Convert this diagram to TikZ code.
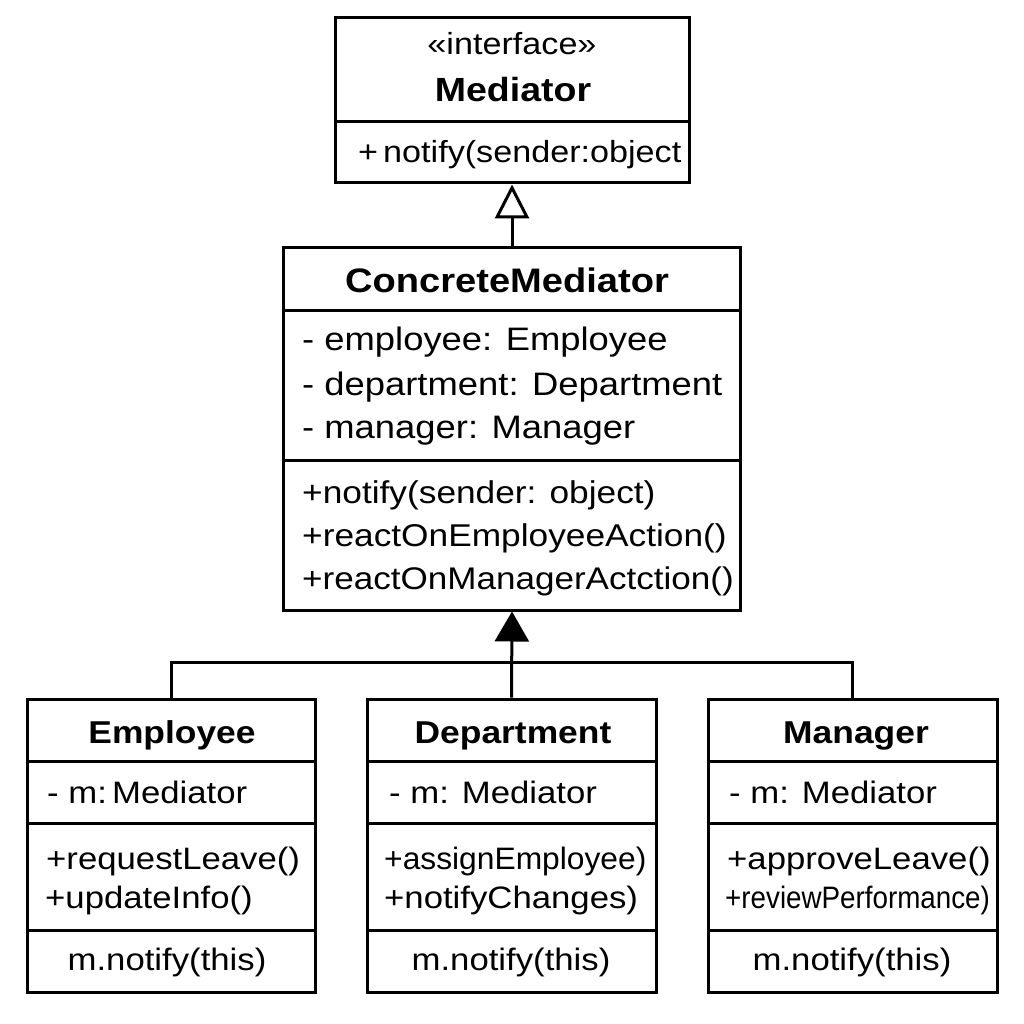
\documentclass[tikz,border=0pt]{standalone}
\usepackage{fontspec}
\setmainfont{Liberation Sans}[FakeStretch=1.12]
\usetikzlibrary{arrows.meta}
\begin{document}
\begin{tikzpicture}[x=1pt,y=-1pt,
  box/.style={draw=black, line width=3pt, rectangle, inner sep=0pt, fill=white},
  sep/.style={draw=black, line width=3pt},
  conn/.style={draw=black, line width=3pt},
  ttl/.style={inner sep=0pt, anchor=base, font=\bfseries\fontsize{34}{40}\selectfont},
  btl/.style={inner sep=0pt, anchor=base, font=\bfseries\fontsize{31.6}{38}\selectfont},
  ln/.style={inner sep=0pt, anchor=base west, font=\fontsize{32}{38}\selectfont},
  sm/.style={inner sep=0pt, anchor=base west, font=\fontsize{31}{37}\selectfont},
  smc/.style={inner sep=0pt, anchor=base, font=\fontsize{31}{37}\selectfont}
]
\useasboundingbox[fill=white] (0,0) rectangle (1024,1024);

% Mediator interface
\node[box, minimum width=354pt, minimum height=165pt] (med) at (512,100.5) {};
\draw[sep] (med.west |- 0,122) -- (med.east |- 0,122);
\node[inner sep=0pt, anchor=base, font=\fontsize{30.5}{36}\selectfont] (medst) at (512,55) {«interface»};
\node[inner sep=0pt, anchor=base, font=\bfseries\fontsize{33.5}{40}\selectfont] (medt) at (513,102) {Mediator};
\node[sm, font=\fontsize{30.5}{36}\selectfont] (medm) at (358,163) {+\,notify(sender:object};

% ConcreteMediator
\node[box, minimum width=457pt, minimum height=363pt] (cm) at (512,428.5) {};
\draw[sep] (cm.west |- 0,310) -- (cm.east |- 0,310);
\draw[sep] (cm.west |- 0,460) -- (cm.east |- 0,460);
\node[ttl] (cmt) at (507,292) {ConcreteMediator};
\node[ln, font=\fontsize{32.5}{38}\selectfont] (cma1) at (302,350) {- employee: Employee};
\node[ln, font=\fontsize{32.5}{38}\selectfont] (cma2) at (302,395) {- department: Department};
\node[ln, font=\fontsize{32.5}{38}\selectfont] (cma3) at (302,438) {- manager: Manager};
\node[ln, font=\fontsize{31.5}{38}\selectfont] (cmm1) at (302,503) {+notify(sender: object)};
\node[ln, font=\fontsize{31.5}{38}\selectfont] (cmm2) at (302,546) {+reactOnEmployeeAction()};
\node[ln, font=\fontsize{31.3}{38}\selectfont] (cmm3) at (302,589) {+reactOnManagerActction()};

% Employee
\node[box, minimum width=288pt, minimum height=293pt] (emp) at (171,845.5) {};
\draw[sep] (emp.west |- 0,761) -- (emp.east |- 0,761);
\draw[sep] (emp.west |- 0,823) -- (emp.east |- 0,823);
\draw[sep] (emp.west |- 0,930) -- (emp.east |- 0,930);
\node[btl] (empt) at (172,743) {Employee};
\node[sm] (empa) at (47,803) {- m:\,Mediator};
\node[sm] (empm1) at (46,869) {+requestLeave()};
\node[sm] (empm2) at (45,908) {+updateInfo()};
\node[smc] (empn) at (167,970) {m.notify(this)};

% Department
\node[box, minimum width=289pt, minimum height=293pt] (dep) at (511.5,845.5) {};
\draw[sep] (dep.west |- 0,761) -- (dep.east |- 0,761);
\draw[sep] (dep.west |- 0,823) -- (dep.east |- 0,823);
\draw[sep] (dep.west |- 0,930) -- (dep.east |- 0,930);
\node[btl] (dept) at (513,743) {Department};
\node[sm] (depa) at (389,803) {- m: Mediator};
\node[sm] (depm1) at (384,869) {\scalebox{0.915}[1]{+assignEmployee)}};
\node[sm] (depm2) at (384,908) {+notifyChanges)};
\node[smc] (depn) at (511,970) {m.notify(this)};

% Manager
\node[box, minimum width=289pt, minimum height=293pt] (mgr) at (852.5,845.5) {};
\draw[sep] (mgr.west |- 0,761) -- (mgr.east |- 0,761);
\draw[sep] (mgr.west |- 0,823) -- (mgr.east |- 0,823);
\draw[sep] (mgr.west |- 0,930) -- (mgr.east |- 0,930);
\node[btl] (mgrt) at (856,743) {Manager};
\node[sm] (mgra) at (729,803) {- m: Mediator};
\node[sm] (mgrm1) at (727,869) {+approveLeave()};
\node[sm] (mgrm2) at (725,908) {\scalebox{0.8}[1]{+reviewPerformance)}};
\node[smc] (mgrn) at (852,970) {m.notify(this)};

% connectors
\coordinate (bus) at (512,662);
\draw[conn, -{Triangle[open, width=34pt, length=34pt, line width=3pt]}] (cm.north) -- (med.south);
\draw[conn] (emp.north) |- (mgr.north |- bus) -- (mgr.north);
\draw[conn, -{Triangle[width=34pt, length=30pt]}] (dep.north) -- (cm.south);
\end{tikzpicture}
\end{document}
